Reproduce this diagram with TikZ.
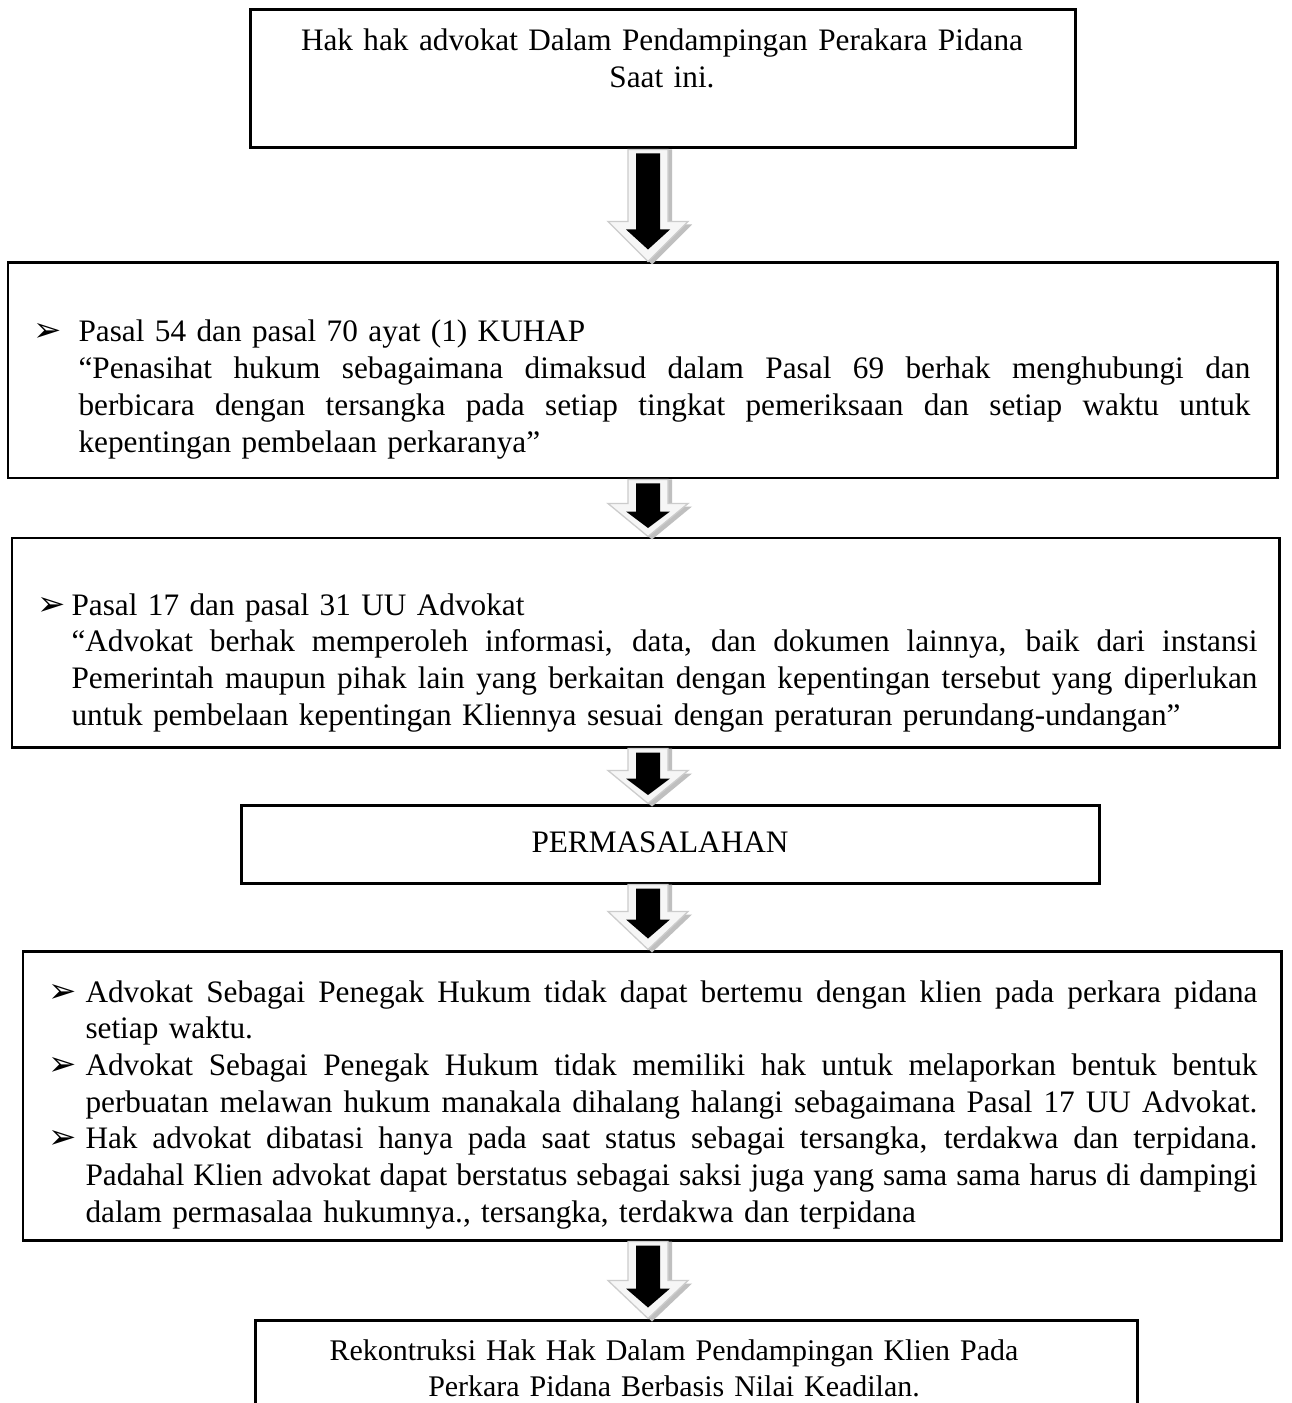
\documentclass[tikz,border=0pt]{standalone}
\usepackage{fontspec}
\setmainfont{Liberation Serif}
\newfontfamily\dejavu{DejaVu Sans}
\usetikzlibrary{calc,fit}
\newcommand\pxu{0.384pt}
\newcommand\bul[1]{\llap{\makebox[#1][l]{\dejavu\fontsize{13}{13}\selectfont ➢}}}
\newcommand\jl[2]{\hbox to #1{\spaceskip=0.25em plus 2em minus 0.08em\relax #2}}
\tikzset{
  box/.style={draw, line width=1.15pt, inner sep=0pt},
  txt/.style={inner sep=0pt, anchor=base west, align=left, font=\fontsize{12}{14.1}\selectfont},
  ctxt/.style={inner sep=0pt, anchor=base, align=center, text width=420pt, font=\fontsize{12}{14.1}\selectfont},
  arrowshadow/.style={fill=gray!50},
  arrowouter/.style={fill=gray!7, draw=gray!40, line width=0.5pt},
}
\newcommand\blockarrow[3]{%
\fill[arrowshadow] let \p1=(#1.south -| ax), \p2=(#2.north -| ax) in
 ({\x1-16*\pxu},{\y1}) -- ({\x1+24*\pxu},{\y1}) -- ({\x1+24*\pxu},{\y2+#3*\pxu-3*\pxu}) -- ({\x1+44*\pxu},{\y2+#3*\pxu-3*\pxu}) -- ({\x1+4*\pxu},{\y2-3*\pxu}) -- ({\x1-36*\pxu},{\y2+#3*\pxu-3*\pxu}) -- ({\x1-16*\pxu},{\y2+#3*\pxu-3*\pxu}) -- cycle;
\filldraw[arrowouter] let \p1=(#1.south -| ax), \p2=(#2.north -| ax) in
 ({\x1-20*\pxu},{\y1}) -- ({\x1+20*\pxu},{\y1}) -- ({\x1+20*\pxu},{\y2+#3*\pxu}) -- ({\x1+40*\pxu},{\y2+#3*\pxu}) -- ({\x1},{\y2}) -- ({\x1-40*\pxu},{\y2+#3*\pxu}) -- ({\x1-20*\pxu},{\y2+#3*\pxu}) -- cycle;
\fill[black] let \p1=(#1.south -| ax), \p2=(#2.north -| ax) in
 ({\x1-12*\pxu},{\y1-4*\pxu}) -- ({\x1+12*\pxu},{\y1-4*\pxu}) -- ({\x1+12*\pxu},{\y2+#3*\pxu-8*\pxu}) -- ({\x1+22*\pxu},{\y2+#3*\pxu-8*\pxu}) -- ({\x1},{\y2+#3*0.5*\pxu-8*\pxu}) -- ({\x1-22*\pxu},{\y2+#3*\pxu-8*\pxu}) -- ({\x1-12*\pxu},{\y2+#3*\pxu-8*\pxu}) -- cycle;
}
\begin{document}
\begin{tikzpicture}[x=0.384pt,y=-0.384pt]
\useasboundingbox (0,0) rectangle (1291,1403);
\clip (0,0) rectangle (1291,1403);
\fill[white] (0,0) rectangle (1291,1403);
\coordinate (ax) at (648,0);
% boxes
\node[box, fit={(250,10)(1075,148)}] (b1) {};
\node[box, fit={(8,263)(1277,478)}] (b2) {};
\node[box, fit={(12,538)(1279,747)}] (b3) {};
\node[box, fit={(241,805)(1099,883)}] (b4) {};
\node[box, fit={(23,951)(1281,1240)}] (b5) {};
\node[box, fit={(255,1320)(1137,1440)}] (b6) {};
% texts
\node[ctxt] (t1) at (662,51) {Hak hak advokat Dalam Pendampingan Perakara Pidana\\Saat ini.};
\node[txt, text width=450pt] (t2) at (78,342) {\vtop{%
\hbox{\bul{17.3pt}Pasal 54 dan pasal 70 ayat (1) KUHAP}
\jl{450pt}{“Penasihat hukum sebagaimana dimaksud dalam Pasal 69 berhak menghubungi dan}
\jl{450pt}{berbicara dengan tersangka pada setiap tingkat pemeriksaan dan setiap waktu untuk}
\hbox{kepentingan pembelaan perkaranya”}}};
\node[txt, text width=455.4pt] (t3) at (71,615) {\vtop{%
\hbox{\bul{13.1pt}Pasal 17 dan pasal 31 UU Advokat}
\jl{455.4pt}{“Advokat berhak memperoleh informasi, data, dan dokumen lainnya, baik dari instansi}
\jl{455.4pt}{Pemerintah maupun pihak lain yang berkaitan dengan kepentingan tersebut yang diperlukan}
\hbox{untuk pembelaan kepentingan Kliennya sesuai dengan peraturan perundang-undangan”}}};
\node[ctxt] (t4) at (660,852) {PERMASALAHAN};
\node[txt, text width=450pt] (t5) at (85,1002) {\vtop{%
\jl{450pt}{\bul{14.2pt}Advokat Sebagai Penegak Hukum tidak dapat bertemu dengan klien pada perkara pidana}
\hbox{setiap waktu.}
\jl{450pt}{\bul{14.2pt}Advokat Sebagai Penegak Hukum tidak memiliki hak untuk melaporkan bentuk bentuk}
\jl{450pt}{perbuatan melawan hukum manakala dihalang halangi sebagaimana Pasal 17 UU Advokat.}
\jl{450pt}{\bul{14.2pt}Hak advokat dibatasi hanya pada saat status sebagai tersangka, terdakwa dan terpidana.}
\jl{450pt}{Padahal Klien advokat dapat berstatus sebagai saksi juga yang sama sama harus di dampingi}
\hbox{dalam permasalaa hukumnya., tersangka, terdakwa dan terpidana}}};
\node[ctxt, font=\fontsize{11.5}{14.1}\selectfont] (t6) at (674,1360) {Rekontruksi Hak Hak Dalam Pendampingan Klien Pada\\Perkara Pidana Berbasis Nilai Keadilan.};
% arrows
\blockarrow{b1}{b2}{40}
\blockarrow{b2}{b3}{33}
\blockarrow{b3}{b4}{33}
\blockarrow{b4}{b5}{38}
\blockarrow{b5}{b6}{38}
\end{tikzpicture}
\end{document}
